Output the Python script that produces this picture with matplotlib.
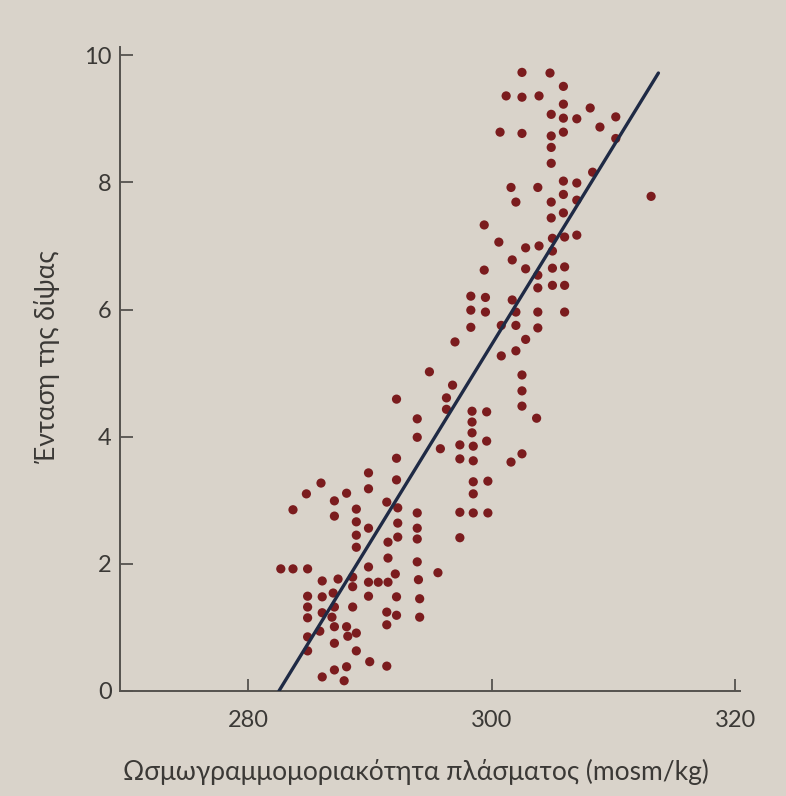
import numpy as np
import matplotlib
matplotlib.use("Agg")
import matplotlib.pyplot as plt

# plasma osmolality (mosm/kg) vs thirst intensity
osmolality = [
    289.9, 286.0, 292.2, 284.8, 288.1, 289.9, 287.1, 291.4, 283.7, 288.9,
    292.3, 293.9, 297.4, 287.1, 288.9, 292.3, 293.9, 289.9, 288.9, 292.3,
    293.9, 297.4, 291.5, 288.9, 291.5, 293.9, 282.7, 283.7, 284.9, 289.9,
    295.6, 292.1, 286.1, 287.4, 288.6, 289.9, 290.7, 291.5, 294.0, 288.6,
    284.9, 286.1, 287.0, 289.9, 292.2, 294.1, 284.9, 287.1, 288.6, 284.9,
    286.1, 286.9, 291.4, 292.2, 294.1, 291.4, 287.1, 288.1, 285.9, 288.2,
    288.9, 284.9, 287.1, 284.9, 288.9, 290.0, 291.4, 287.1, 288.1, 286.1,
    287.9, 294.9, 292.2, 293.9, 293.9, 292.2, 301.7, 299.4, 302.8, 305.0,
    306.0, 303.8, 303.8, 305.0, 306.0, 298.3, 299.5, 301.7, 298.3, 299.5,
    302.0, 303.8, 306.0, 300.8, 302.0, 298.3, 303.8, 302.8, 297.0, 302.0,
    300.8, 302.5, 296.8, 302.5, 296.3, 296.3, 302.5, 303.7, 298.4, 299.6,
    298.4, 298.4, 299.6, 297.4, 298.5, 295.8, 297.4, 298.5, 301.6, 302.5,
    298.5, 299.7, 298.5, 298.5, 299.7, 302.5, 304.8, 305.9, 301.2, 302.5,
    303.9, 305.9, 308.1, 304.9, 305.9, 307.0, 310.2, 308.9, 300.7, 302.5,
    304.9, 305.9, 310.2, 304.9, 304.9, 308.3, 301.6, 303.8, 305.9, 307.0,
    313.1, 302.0, 304.9, 305.9, 307.0, 304.9, 305.9, 299.4, 300.6, 302.8,
    303.9, 305.0, 306.0, 307.0, 305.0,
]
thirst = [
    3.43, 3.27, 3.32, 3.10, 3.11, 3.18, 2.99, 2.97, 2.85, 2.86,
    2.88, 2.80, 2.81, 2.75, 2.66, 2.64, 2.56, 2.56, 2.45, 2.42,
    2.39, 2.41, 2.34, 2.26, 2.09, 2.03, 1.92, 1.92, 1.92, 1.95,
    1.86, 1.84, 1.73, 1.76, 1.79, 1.71, 1.71, 1.71, 1.75, 1.64,
    1.49, 1.48, 1.54, 1.49, 1.48, 1.45, 1.32, 1.32, 1.32, 1.15,
    1.23, 1.16, 1.24, 1.19, 1.16, 1.04, 1.01, 1.01, 0.94, 0.86,
    0.91, 0.85, 0.75, 0.63, 0.63, 0.46, 0.39, 0.33, 0.38, 0.22,
    0.16, 5.02, 4.59, 4.28, 3.99, 3.66, 6.78, 6.62, 6.64, 6.65,
    6.67, 6.54, 6.34, 6.38, 6.38, 6.21, 6.19, 6.15, 5.99, 5.96,
    5.96, 5.96, 5.96, 5.75, 5.75, 5.72, 5.71, 5.53, 5.49, 5.35,
    5.27, 4.97, 4.81, 4.72, 4.61, 4.43, 4.48, 4.29, 4.40, 4.39,
    4.23, 4.06, 3.93, 3.87, 3.85, 3.81, 3.65, 3.62, 3.60, 3.73,
    3.29, 3.30, 3.10, 2.80, 2.80, 9.73, 9.72, 9.51, 9.36, 9.34,
    9.36, 9.23, 9.17, 9.07, 9.01, 9.00, 9.03, 8.87, 8.79, 8.77,
    8.73, 8.79, 8.69, 8.55, 8.30, 8.16, 7.92, 7.92, 8.02, 7.99,
    7.78, 7.69, 7.69, 7.81, 7.72, 7.44, 7.52, 7.33, 7.06, 6.97,
    7.00, 7.12, 7.14, 7.17, 6.92,
]

# regression line end points
line_x = [282.55, 313.7]
line_y = [0.0, 9.72]

xticks = [280, 300, 320]
yticks = [0, 2, 4, 6, 8, 10]

bg = "#d9d3ca"
axis_col = "#55524e"
text_col = "#3b3936"

plt.rcParams['font.family'] = ['Lato', 'DejaVu Sans']

fig = plt.figure(figsize=(7.86, 7.96), dpi=100, facecolor=bg)
ax = fig.add_axes([0.1527, 0.132, 0.7888, 0.809])
ax.set_facecolor(bg)

ax.scatter(osmolality, thirst, s=44, color="#7b1c1e", edgecolors="none", zorder=3)
ax.plot(line_x, line_y, color="#1f2a45", lw=2.4, solid_capstyle="round", zorder=4)

ax.set_xlim(269.5, 320.4)
ax.set_ylim(0, 10.13)
ax.set_xticks(xticks)
ax.set_yticks(yticks)
ax.tick_params(direction="in", length=9, width=1.3, color=axis_col,
               labelsize=17, labelcolor=text_col)
ax.tick_params(axis="y", pad=6)
ax.tick_params(axis="x", pad=14)

for side in ("top", "right"):
    ax.spines[side].set_visible(False)
for side in ("left", "bottom"):
    ax.spines[side].set_color(axis_col)
    ax.spines[side].set_linewidth(1.4)

fig.text(416 / 786, 1 - 772 / 796, "Ωσμωγραμμομοριακότητα πλάσματος (mosm/kg)",
         fontsize=19, color=text_col, ha="center", va="center")
fig.text(47 / 786, 1 - 357 / 796, "Ένταση της δίψας", rotation=90,
         fontsize=19, color=text_col, ha="center", va="center")

fig.savefig("out.png", dpi=100, facecolor=bg)
